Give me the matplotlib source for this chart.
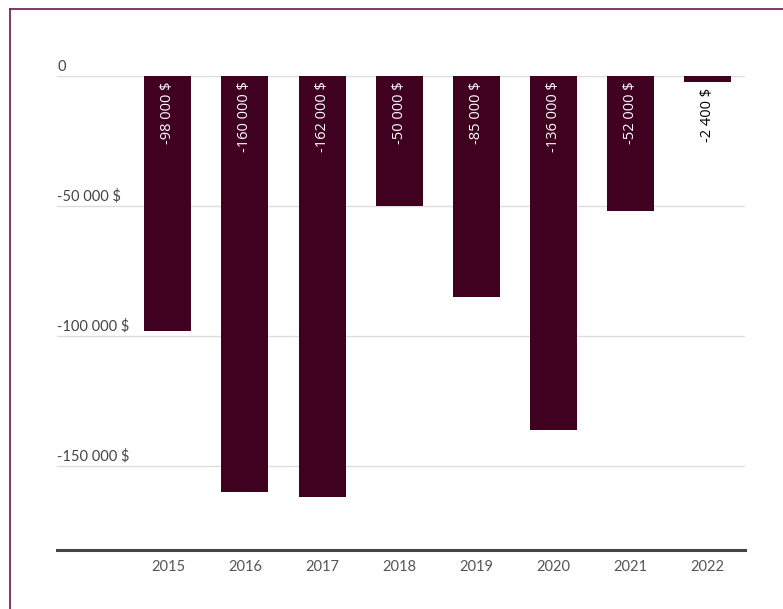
import matplotlib
matplotlib.use("Agg")
import matplotlib.pyplot as plt
from matplotlib.lines import Line2D

years = ["2015", "2016", "2017", "2018", "2019", "2020", "2021", "2022"]
values = [-98000, -160000, -162000, -50000, -85000, -136000, -52000, -2400]
y_ticks = [0, -50000, -100000, -150000]

BAR_COLOR = "#400020"
FRAME_COLOR = "#6e2c5a"


def fmt_money(v):
    s = f"{abs(int(v)):,}".replace(",", " ")
    sign = "-" if v < 0 else ""
    return f"{sign}{s} $"


W, H = 783, 609
fig = plt.figure(figsize=(W / 100, H / 100), dpi=100)
fig.patch.set_facecolor("white")

# outer frame (top and left edges visible)
fig.add_artist(Line2D([10 / W, 10 / W], [1 - 9 / H, 0], transform=fig.transFigure,
                      color=FRAME_COLOR, lw=1.3))
fig.add_artist(Line2D([10 / W, 1], [1 - 9 / H, 1 - 9 / H], transform=fig.transFigure,
                      color=FRAME_COLOR, lw=1.3))

left, right = 57 / W, 745 / W
top, bottom = 1 - 76 / H, 1 - 550 / H
ax = fig.add_axes([left, bottom, right - left, top - bottom])
ax.set_facecolor("none")

x = list(range(len(years)))
ax.bar(x, values, width=0.61, color=BAR_COLOR, zorder=3)

ax.set_xlim(-1.44, 7.49)
ax.set_ylim(-182300, 0)

# horizontal gridlines with labels sitting just above them
for t in y_ticks:
    ax.axhline(t, color="#dddddd", lw=1, zorder=1)
    ax.annotate(fmt_money(t) if t != 0 else "0", xy=(0, t), xycoords=("axes fraction", "data"),
                xytext=(0, 1.5), textcoords="offset points", ha="left", va="bottom",
                fontsize=10.5, color="#444444", family=["Lato", "DejaVu Sans"])

for s in ["top", "right", "left"]:
    ax.spines[s].set_visible(False)
ax.spines["bottom"].set_color("#444444")
ax.spines["bottom"].set_linewidth(2.2)
ax.set_yticks([])
ax.set_xticks(x)
ax.set_xticklabels(years, fontsize=10.5, color="#555555", family=["Lato", "DejaVu Sans"])
ax.tick_params(axis="x", length=0, pad=7)

# value labels, rotated, hanging from the top of each bar
for xi, v in zip(x, values):
    inside = abs(v) > 20000
    anchor = 0 if inside else v
    ax.annotate(fmt_money(v), xy=(xi, anchor), xytext=(0, -4), textcoords="offset points",
                rotation=90, ha="center", va="top", fontsize=10.5,
                color="white" if inside else "black",
                family=["Open Sans", "DejaVu Sans"], zorder=4)

fig.savefig("out.png", dpi=100)
